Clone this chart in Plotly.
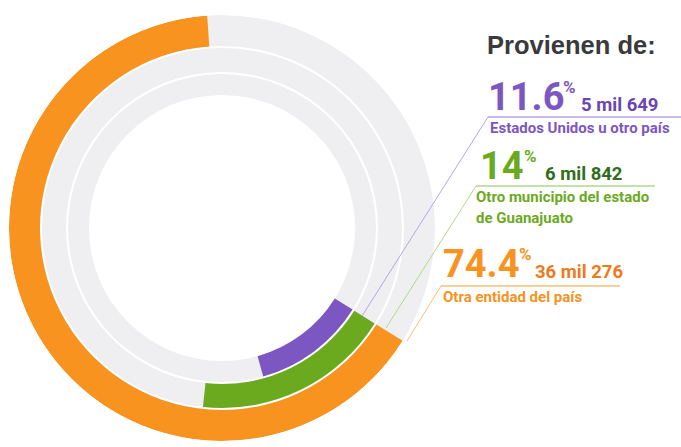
import plotly.graph_objects as go

# datos
categorias = ["Estados Unidos u otro país", "Otro municipio del estado<br>de Guanajuato", "Otra entidad del país"]
porcentaje = ["11.6", "14", "74.4"]
personas = ["5 mil 649", "6 mil 842", "36 mil 276"]
# fraccion del anillo que ocupa cada arco en la grafica original (no esta a escala)
arco = [11.8, 17.8, 65.0]

colores = ["#7D57C1", "#6BAA1F", "#F7931E"]
colores_osc = ["#6A46B2", "#2F6E1B", "#F07A1A"]
colores_linea = ["#B7A5E2", "#B4D68A", "#F6BE7A"]
gris = "#EFEFF1"

W, H = 681, 447
CX, CY, R = 222, 228, 213
INICIO = 122  # grados, en sentido horario desde las 12

# anillos de adentro hacia afuera: (base, grosor)
anillos = [(133, 21), (156, 24), (182, 31)]


def px(x):
    return x / W


def py(y):
    return 1 - y / H


fig = go.Figure()

for (base, grosor), val, color in zip(anillos, arco, colores):
    fig.add_trace(go.Barpolar(r=[grosor], theta=[180], width=[360], base=[base],
                              marker=dict(color=gris, line=dict(width=0)), hoverinfo="skip"))
    span = val * 3.6
    fig.add_trace(go.Barpolar(r=[grosor], theta=[INICIO + span / 2], width=[span], base=[base],
                              marker=dict(color=color, line=dict(width=0))))

fig.update_layout(
    width=W, height=H,
    margin=dict(l=0, r=0, t=0, b=0),
    paper_bgcolor="white",
    showlegend=False,
    polar=dict(
        domain=dict(x=[px(CX - R), px(CX + R)], y=[py(CY + R), py(CY - R)]),
        bgcolor="white",
        radialaxis=dict(range=[0, R], visible=False),
        angularaxis=dict(visible=False, rotation=90, direction="clockwise"),
    ),
)

condensada = "Roboto, sans-serif"

anots = []


def texto(x, y, t, size, color, fam=condensada):
    anots.append(dict(x=px(x - 2), y=py(y), xref="paper", yref="paper", text="<b>" + t + "</b>",
                      showarrow=False, xanchor="left", yanchor="middle",
                      font=dict(family=fam, size=size, color=color)))


texto(487, 45, "Provienen de:", 25.5, "#3A3A3A", fam="Liberation Sans, Arial, sans-serif")

# posiciones de cada bloque de etiqueta
bloques = [
    dict(xn=488, yn=97, yl=117, xl0=488, xl1=681, xt=490, yt=[128], xp=563, xm=581,
         l0=(362, 316)),
    dict(xn=480, yn=166, yl=186, xl0=476, xl1=655, xt=476, yt=[197, 218], xp=524, xm=545,
         l0=(386, 328)),
    dict(xn=443, yn=264, yl=286, xl0=441, xl1=620, xt=443, yt=[297], xp=519, xm=535,
         l0=(407, 341)),
]

shapes = []
for i, b in enumerate(bloques):
    texto(b["xn"], b["yn"], porcentaje[i], 38, colores[i])
    texto(b["xp"], b["yn"] - 10, "%", 17, colores[i])
    texto(b["xm"], b["yn"] + 8, personas[i], 18.5, colores_osc[i])
    for t, yy in zip(categorias[i].split("<br>"), b["yt"]):
        texto(b["xt"], yy, t, 15, colores[i])
    shapes.append(dict(type="line", xref="paper", yref="paper",
                       x0=px(b["xl0"]), x1=px(b["xl1"]), y0=py(b["yl"]), y1=py(b["yl"]),
                       line=dict(color=colores_linea[i], width=1.5)))
    shapes.append(dict(type="line", xref="paper", yref="paper",
                       x0=px(b["l0"][0]), y0=py(b["l0"][1]), x1=px(b["xl0"]), y1=py(b["yl"]),
                       line=dict(color=colores_linea[i], width=1)))

fig.update_layout(annotations=anots, shapes=shapes)

fig.write_html("out.html", config={"displayModeBar": False},
               post_script="document.body.style.margin = '0';")
